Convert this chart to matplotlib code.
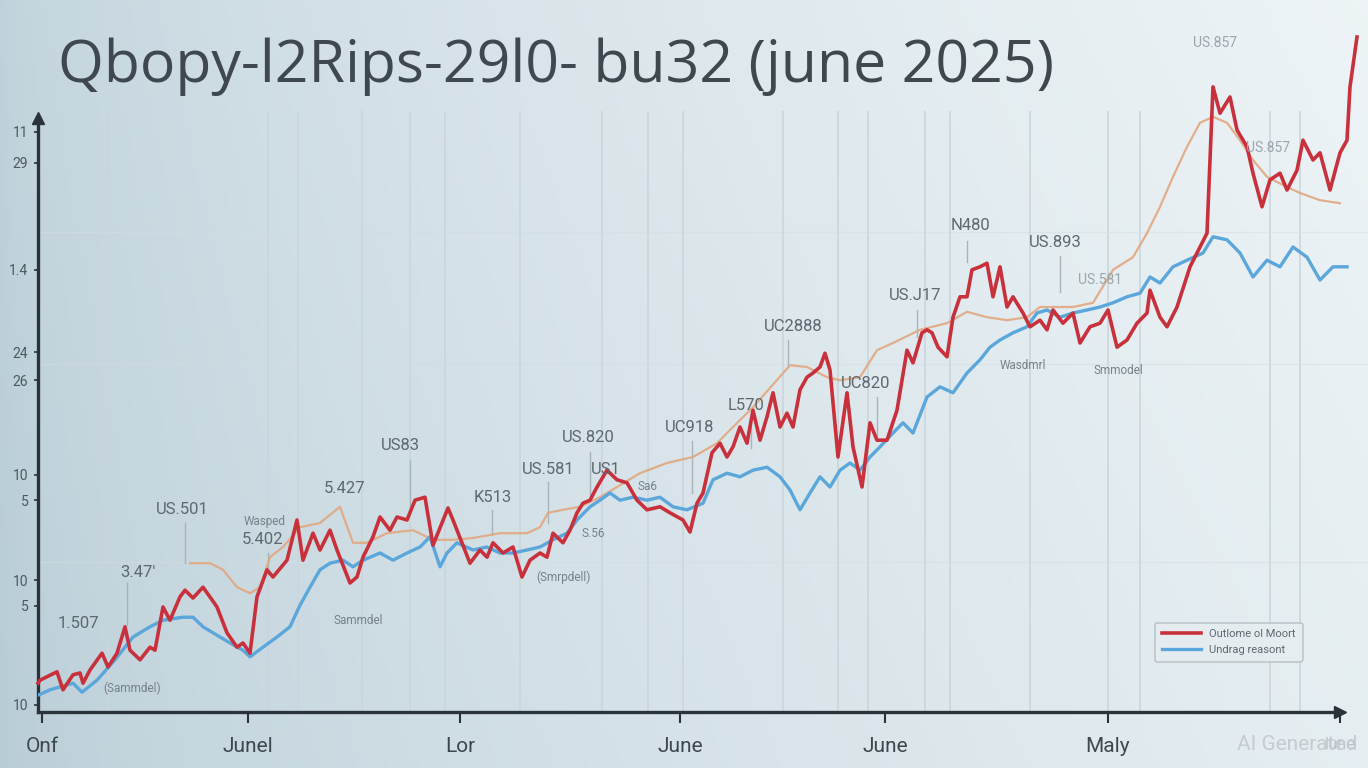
import numpy as np
import matplotlib
matplotlib.use("Agg")
import matplotlib.pyplot as plt

plt.rcParams['font.family'] = ['Roboto', 'DejaVu Sans']

# ---- data (day index, value) ----
red_day = [0.0, 0.2, 1.9, 2.5, 3.5, 4.2, 4.5, 5.2, 6.4, 7.0, 7.9, 8.7, 9.2, 10.2, 11.2, 11.7, 12.5, 13.2,
           14.2, 14.7, 15.5, 16.5, 17.4, 17.9, 18.9, 19.9, 20.5, 21.2, 21.9, 22.9, 23.5, 24.9, 25.9, 26.5,
           27.5, 28.2, 29.2, 29.9, 31.2, 31.9, 32.5, 33.5, 34.2, 35.2, 35.9, 36.9, 37.7, 38.7, 39.5, 41.0,
           41.5, 41.9, 43.2, 44.2, 44.9, 45.5, 46.5, 47.5, 48.4, 49.2, 50.2, 50.9, 51.5, 52.5, 53.2, 53.9,
           54.5, 55.2, 55.9, 56.9, 57.9, 58.9, 59.9, 60.9, 62.2, 63.2, 64.5, 65.2, 65.9, 66.5, 67.4, 68.2,
           68.9, 69.5, 70.2, 70.9, 71.5, 72.2, 72.9, 73.5, 74.2, 74.9, 75.5, 76.2, 76.9, 77.5, 78.2, 78.7,
           79.2, 80.0, 80.9, 81.5, 82.4, 83.2, 83.9, 84.9, 85.9, 86.9, 87.5, 88.4, 88.9, 89.4, 90.0, 90.9,
           91.5, 92.2, 92.9, 93.4, 94.2, 94.9, 95.5, 96.2, 96.9, 97.5, 98.5, 99.2, 100.2, 100.9, 101.5,
           102.5, 103.5, 104.2, 105.2, 106.2, 107.0, 107.9, 108.9, 109.9, 110.9, 111.2, 112.2, 112.9,
           113.9, 115.2, 116.2, 116.9, 117.5, 118.2, 119.2, 119.9, 120.9, 121.5, 122.4, 123.2, 124.2,
           124.9, 125.9, 126.5, 127.5, 128.2, 129.2, 130.2, 130.9, 131.2, 131.9]
red_val = [4.8, 5.3, 6.7, 3.7, 6.2, 6.5, 4.8, 7.0, 9.8, 7.5, 9.8, 14.2, 10.3, 8.7, 10.8, 10.3, 17.5, 15.3,
           19.2, 20.3, 19.0, 20.8, 18.7, 17.5, 13.2, 10.8, 11.5, 9.8, 19.2, 23.7, 22.5, 25.3, 32.0, 25.3,
           29.8, 27.0, 30.3, 27.0, 21.5, 22.5, 25.8, 29.2, 32.5, 30.3, 32.5, 32.0, 35.3, 35.8, 27.8, 34.0,
           32.0, 30.3, 24.8, 27.0, 25.8, 28.2, 26.5, 27.5, 22.5, 25.3, 26.5, 25.8, 29.8, 28.2, 30.3, 33.2,
           34.8, 35.3, 37.5, 40.3, 38.7, 38.2, 35.3, 33.7, 34.2, 33.2, 32.0, 30.0, 34.8, 36.5, 43.2, 44.8,
           42.5, 44.2, 47.5, 44.8, 50.3, 45.3, 49.2, 53.2, 47.5, 49.8, 47.5, 53.7, 55.8, 56.5, 57.5, 59.8,
           57.0, 42.5, 53.2, 44.2, 37.5, 48.2, 45.3, 45.3, 50.3, 60.3, 58.2, 63.2, 63.7, 63.2, 60.8, 59.2,
           65.8, 69.2, 69.2, 73.7, 74.2, 74.8, 69.2, 74.2, 67.5, 69.2, 66.5, 64.2, 65.3, 63.7, 67.0,
           64.8, 66.5, 61.5, 64.2, 64.8, 67.0, 60.8, 62.0, 64.8, 66.5, 70.3, 65.8, 64.2,
           67.5, 74.2, 77.5, 79.8, 104.2, 99.8, 102.5, 97.0, 94.2, 89.8, 84.2, 88.7, 89.8,
           87.0, 90.3, 95.3, 92.0, 93.2, 87.0, 93.2, 95.3, 104.2, 112.5]

blue_day = [0.0, 1.2, 3.5, 4.4, 5.9, 7.7, 9.5, 11.2, 12.5, 14.5, 15.5, 16.5, 17.5, 19.2, 20.5, 21.2, 22.5,
            23.9, 25.2, 26.2, 27.2, 28.2, 29.2, 30.5, 31.5, 32.5, 34.2, 35.5, 36.9, 38.2, 39.2, 40.2, 40.9,
            41.9, 43.5, 44.9, 46.2, 47.5, 48.9, 50.2, 51.5, 52.9, 53.9, 55.2, 56.2, 57.2, 58.2, 59.5, 60.9,
            62.2, 63.5, 64.9, 66.5, 67.5, 68.9, 70.2, 71.5, 72.9, 74.2, 75.2, 76.2, 77.2, 78.2, 79.2, 80.2,
            81.2, 82.2, 83.2, 84.2, 85.5, 86.5, 87.5, 88.9, 90.2, 91.5, 92.9, 94.2, 95.2, 96.2, 97.5, 98.9,
            99.9, 100.9, 102.2, 103.5, 104.9, 106.2, 107.5, 108.9, 110.2, 111.2, 112.2, 113.5, 114.9,
            116.5, 117.5, 118.9, 120.2, 121.5, 122.9, 124.2, 125.5, 126.9, 128.2, 129.5, 130.9]
blue_val = [2.8, 3.7, 4.8, 3.3, 5.3, 8.7, 12.5, 14.2, 15.3, 15.8, 15.8, 14.2, 13.2, 11.5, 10.3, 9.2, 10.8,
            12.5, 14.2, 17.8, 20.8, 23.7, 24.8, 25.3, 24.2, 25.3, 26.5, 25.3, 26.5, 27.5, 29.2, 24.2, 26.5,
            28.2, 27.0, 27.5, 26.5, 26.5, 27.0, 27.5, 28.7, 29.8, 32.0, 34.2, 35.3, 36.5, 35.3, 35.8, 35.3,
            35.8, 34.2, 33.7, 34.8, 38.7, 39.8, 39.2, 40.3, 40.8, 39.2, 37.0, 33.7, 36.5, 39.2, 37.5, 40.3,
            41.5, 40.3, 42.5, 44.2, 46.5, 48.2, 46.5, 52.5, 54.2, 53.2, 56.5, 58.7, 60.8, 62.0, 63.2, 64.2,
            66.5, 67.0, 65.8, 66.5, 67.0, 67.5, 68.2, 69.2, 69.8, 72.5, 71.5, 74.2, 75.3,
            76.5, 79.2, 78.7, 76.5, 72.5, 75.3, 74.2, 77.5, 75.8, 72.0, 74.2, 74.2]

orange_day = [15.2, 17.2, 18.5, 19.9, 21.2, 22.2, 23.2, 24.5, 26.2, 28.2, 30.2, 31.5, 32.9, 34.9, 37.5,
              39.5, 41.5, 43.5, 46.2, 48.9, 50.2, 51.0, 52.5, 54.2, 56.2, 57.9, 60.2, 62.9, 65.5, 67.9,
              69.5, 71.5, 75.2, 76.9, 78.9, 80.2, 82.2, 83.9, 85.5, 88.2, 90.9, 92.9, 94.9, 96.9, 98.9,
              100.2, 101.5, 103.5, 105.5, 107.5, 109.5, 110.9, 112.2, 113.5, 114.9, 116.2, 117.5, 118.9,
              120.2, 121.5, 122.9, 124.9, 126.2, 128.2, 130.2]
orange_val = [24.8, 24.8, 23.7, 20.8, 19.8, 20.8, 25.8, 27.5, 30.8, 31.5, 34.2, 28.2, 28.2, 29.8, 30.3,
              28.7, 28.7, 29.0, 29.8, 29.8, 30.8, 33.2, 33.7, 34.2, 35.8, 37.5, 39.8, 41.5, 42.5, 44.8,
              47.5, 50.8, 57.8, 57.5, 55.8, 55.3, 55.8, 60.3, 61.5, 63.7, 64.8, 66.7, 65.8, 65.3, 65.8,
              67.5, 67.5, 67.5, 68.2, 73.7, 75.8, 79.8, 84.2, 89.2, 94.2, 98.2, 99.2, 98.2,
              95.3, 92.0, 89.2, 87.5, 86.5, 85.3, 84.8]

series_names = ['Outlome ol Moort', 'Undrag reasont']

x_tick_pos = [0.4, 21.0, 42.2, 64.2, 84.7, 107.0, 130.2]
x_tick_labels = ['Onf', 'Junel', 'Lor', 'June', 'June', 'Maly', 'lune']
y_tick_pos = [96.7, 91.5, 73.7, 60.0, 55.3, 39.5, 35.3, 22.0, 17.7, 1.2]
y_tick_labels = ['11', '29', '1.4', '24', '26', '10', '5', '10', '5', '10']

grid_days = [7.0, 23.0, 26.0, 32.4, 37.2, 40.7, 48.2, 56.4, 61.0, 64.5, 74.5, 80.0, 83.0, 88.7, 91.2,
             99.2, 107.0, 110.2, 123.2, 126.2]

# (label, text x, text y, leader x, leader top, leader bottom)
callouts = [
    ('1.507', 4.0, 14.8, None, None, None),
    ("3.47'", 10.0, 23.3, 8.9, 21.5, 14.5),
    ('US.501', 14.4, 33.7, 14.7, 31.5, 24.8),
    ('5.402', 22.5, 28.7, 23.0, 26.5, 23.0),
    ('5.427', 30.7, 37.2, None, None, None),
    ('US83', 36.2, 44.5, 37.2, 42.0, 33.5),
    ('K513', 45.5, 35.8, 45.4, 33.7, 29.5),
    ('US.581', 51.0, 40.5, 51.0, 38.3, 31.5),
    ('US.820', 55.0, 45.7, 55.2, 43.3, 36.0),
    ('US1', 56.8, 40.5, None, None, None),
    ('UC918', 65.2, 47.5, 65.4, 45.2, 36.5),
    ('L570', 70.8, 51.0, 71.3, 48.5, 44.0),
    ('UC2888', 75.5, 64.3, 75.0, 62.0, 57.5),
    ('UC820', 82.8, 54.8, 83.9, 52.5, 46.0),
    ('US.J17', 87.7, 69.5, 87.9, 67.0, 62.5),
    ('N480', 93.2, 81.0, 92.9, 78.5, 75.0),
    ('US.893', 101.7, 78.3, 102.2, 76.0, 70.0),
]
faint_callouts = [
    ('US.581', 106.2, 72.0),
    ('US.857', 117.7, 111.5),
    ('US.857', 123.0, 94.0),
]
small_notes = [
    ('(Sammdel)', 9.4, 4.0),
    ('Sammdel', 32.0, 15.3),
    ('(Smrpdell)', 52.5, 22.5),
    ('Smmodel', 108.0, 57.0),
    ('Wasped', 22.7, 31.7),
    ('S.56', 55.5, 29.7),
    ('Sa6', 61.0, 37.5),
    ('Wasdmrl', 98.5, 57.8),
]

# ---- figure ----
fig = plt.figure(figsize=(13.68, 7.68), dpi=100)

# soft blue-grey backdrop
bg = fig.add_axes([0, 0, 1, 1], zorder=-1)
gx = np.linspace(0, 1, 300)
gy = np.linspace(0, 1, 200)
GX, GY = np.meshgrid(gx, gy)
left_c = np.array([0.72, 0.80, 0.84])
right_c = np.array([0.93, 0.955, 0.965])
t = np.clip(GX ** 0.6 * 0.85 + (1 - GY) * 0.15, 0, 1)
img = left_c[None, None, :] * (1 - t[..., None]) + right_c[None, None, :] * t[..., None]
bg.imshow(img, aspect='auto', extent=[0, 1, 0, 1], origin='upper')
bg.axis('off')

ax = fig.add_axes([38 / 1368, 56 / 768, 1330 / 1368, 690 / 768])
ax.set_facecolor('none')
ax.set_xlim(0, 133)
ax.set_ylim(0, 115)

for gd in grid_days:
    ax.axvline(gd, ymin=0, ymax=0.87, color='#c9d5db', lw=1.4, alpha=0.8, zorder=0)
for hv in [25, 58, 80]:
    ax.axhline(hv, color='#d3dde2', lw=1.0, alpha=0.5, zorder=0)

ax.plot(orange_day, orange_val, color='#e2a77f', lw=1.6, alpha=0.9, zorder=2)
blue_line, = ax.plot(blue_day, blue_val, color='#5ba6da', lw=2.4, zorder=3)
red_line, = ax.plot(red_day, red_val, color='#c8313c', lw=2.6, zorder=4, clip_on=False)

for label, tx, ty, lx, ly0, ly1 in callouts:
    ax.text(tx, ty, label, fontsize=12, color='#5d6870', ha='center', va='center', zorder=5)
    if lx is not None:
        ax.plot([lx, lx], [ly0, ly1], color='#a9b4ba', lw=1.0, zorder=1)
for label, tx, ty in faint_callouts:
    ax.text(tx, ty, label, fontsize=10, color='#9aa6ad', ha='center', va='center', zorder=5)
for label, tx, ty in small_notes:
    ax.text(tx, ty, label, fontsize=8.5, color='#76828a', ha='center', va='center', zorder=5)

# axes with arrows
for s in ['top', 'right']:
    ax.spines[s].set_visible(False)
ax.spines['left'].set_bounds(0, 99)
ax.spines['bottom'].set_bounds(0, 130.2)
for s in ['left', 'bottom']:
    ax.spines[s].set_color('#2b333a')
    ax.spines[s].set_linewidth(2.4)
ax.plot([0], [99], marker='^', color='#2b333a', ms=8, clip_on=False, zorder=6)
ax.plot([130.2], [0], marker='>', color='#2b333a', ms=8, clip_on=False, zorder=6)

ax.set_xticks(x_tick_pos)
ax.set_xticklabels(x_tick_labels, fontsize=15, color='#3e474e')
ax.get_xticklabels()[-1].set_color('#b9c3c9')
ax.get_xticklabels()[-1].set_fontsize(12)
ax.tick_params(axis='x', length=8, width=1.5, color='#2b333a', pad=10)
ax.set_yticks(y_tick_pos)
ax.set_yticklabels(y_tick_labels, fontsize=10, color='#4d5860')
ax.tick_params(axis='y', length=3, width=1.2, color='#2b333a', pad=4)

leg = ax.legend([red_line, blue_line], series_names, loc='lower right', bbox_to_anchor=(0.955, 0.065),
                fontsize=8, frameon=True, handlelength=3.5, borderpad=0.6, labelcolor='#5d6870')
leg.get_frame().set_facecolor('#e6edf0')
leg.get_frame().set_edgecolor('#b7c2c8')
leg.get_frame().set_alpha(0.9)
leg.get_frame().set_linewidth(1.2)

fig.text(58 / 1368, 1 - 67 / 768, 'Qbopy-l2Rips-29l0- bu32 (june 2025)', fontsize=42.5,
         family=['Open Sans', 'DejaVu Sans'], color='#40484f', ha='left', va='center')
fig.text(1357 / 1368, 1 - 745 / 768, 'AI Generated', fontsize=15, color='#c4ccd1',
         ha='right', va='center', zorder=10)

fig.savefig('out.png', dpi=100)
